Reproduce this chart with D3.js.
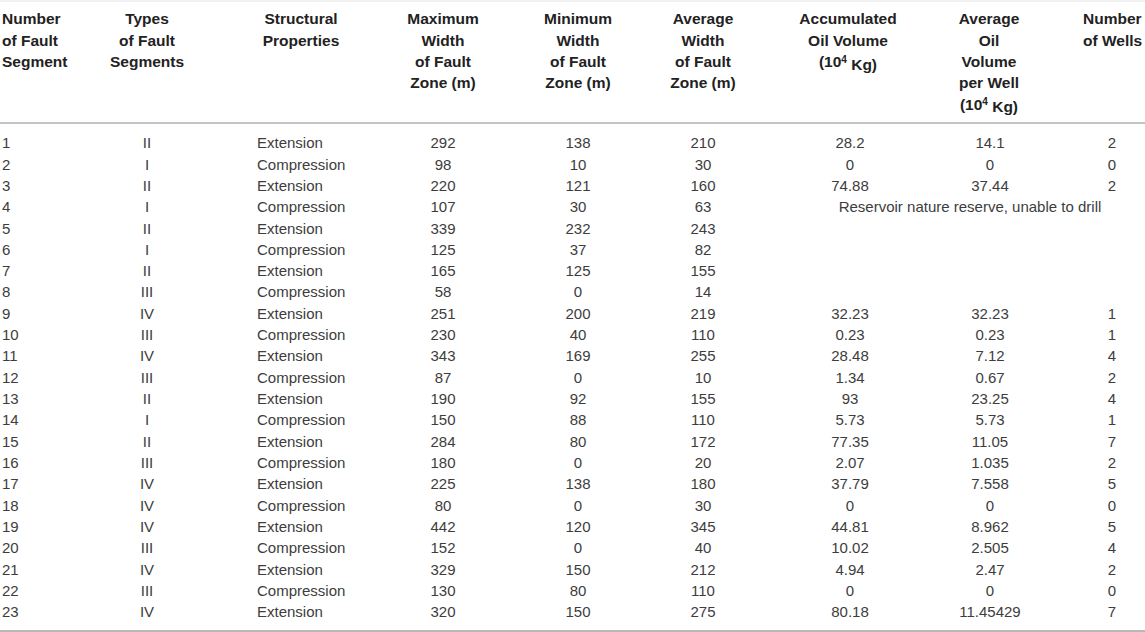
<!DOCTYPE html>
<html>
<head>
<meta charset="utf-8">
<script src="https://cdn.jsdelivr.net/npm/d3@7"></script>
<style>
  html, body { margin: 0; padding: 0; background: #fff; }
  svg { display: block; }
</style>
</head>
<body>
<div id="table"></div>
<script>
// Table data, one array per column
const segments = [1, 2, 3, 4, 5, 6, 7, 8, 9, 10, 11, 12, 13, 14, 15, 16, 17, 18, 19, 20, 21, 22, 23]
const segmentTypes = ["II", "I", "II", "I", "II", "I", "II", "III", "IV", "III", "IV", "III",
  "II", "I", "II", "III", "IV", "IV", "IV", "III", "IV", "III", "IV"]
const properties = segments.map((d, i) => i % 2 === 0 ? "Extension" : "Compression")
const maxWidth = [292, 98, 220, 107, 339, 125, 165, 58, 251, 230, 343, 87, 190, 150, 284, 180, 225, 80, 442, 152, 329, 130, 320]
const minWidth = [138, 10, 121, 30, 232, 37, 125, 0, 200, 40, 169, 0, 92, 88, 80, 0, 138, 0, 120, 0, 150, 80, 150]
const avgWidth = [210, 30, 160, 63, 243, 82, 155, 14, 219, 110, 255, 10, 155, 110, 172, 20, 180, 30, 345, 40, 212, 110, 275]
const oilVolume = [28.2, 0, 74.88, null, null, null, null, null, 32.23, 0.23, 28.48, 1.34, 93, 5.73, 77.35, 2.07, 37.79, 0, 44.81, 10.02, 4.94, 0, 80.18]
const oilPerWell = [14.1, 0, 37.44, null, null, null, null, null, 32.23, 0.23, 7.12, 0.67, 23.25, 5.73, 11.05, 1.035, 7.558, 0, 8.962, 2.505, 2.47, 0, 11.45429]
const wells = [2, 0, 2, null, null, null, null, null, 1, 1, 4, 2, 4, 1, 7, 2, 5, 0, 5, 4, 2, 0, 7]
const reserveNote = { segment: 4, text: "Reservoir nature reserve, unable to drill" }

// Header lines per column ("^4" marks a superscript)
const headers = [
  ["Number", "of Fault", "Segment"],
  ["Types", "of Fault", "Segments"],
  ["Structural", "Properties"],
  ["Maximum", "Width", "of Fault", "Zone (m)"],
  ["Minimum", "Width", "of Fault", "Zone (m)"],
  ["Average", "Width", "of Fault", "Zone (m)"],
  ["Accumulated", "Oil Volume", "(10^4 Kg)"],
  ["Average", "Oil", "Volume", "per Well", "(10^4 Kg)"],
  ["Number", "of Wells"]
]
const columnValues = [segments, segmentTypes, properties, maxWidth, minWidth, avgWidth, oilVolume, oilPerWell, wells]

// Layout
const width = 1145
const height = 632
const layout = [
  { x: 2, anchor: "start", hx: 2, hanchor: "start" },
  { x: 147, anchor: "middle", hx: 147, hanchor: "middle" },
  { x: 257, anchor: "start", hx: 301, hanchor: "middle" },
  { x: 443, anchor: "middle", hx: 443, hanchor: "middle" },
  { x: 578, anchor: "middle", hx: 578, hanchor: "middle" },
  { x: 703, anchor: "middle", hx: 703, hanchor: "middle" },
  { x: 850, anchor: "middle", hx: 848, hanchor: "middle" },
  { x: 990, anchor: "middle", hx: 989, hanchor: "middle" },
  { x: 1112, anchor: "middle", hx: 1083, hanchor: "start" }
]

const svg = d3.select("#table")
  .append("svg")
  .attr("width", width)
  .attr("height", height)
  .style("font-family", "'Liberation Sans', Arial, Helvetica, sans-serif")
  .style("font-size", "15px")

const y = d3.scalePoint()
  .domain(segments)
  .range([143, 612])

const lineStep = y.step()

// Rules
svg.append("line")
  .attr("x1", 0).attr("x2", width)
  .attr("y1", 1).attr("y2", 1)
  .attr("stroke", "#ececec")
  .attr("stroke-width", 1.5)

svg.append("line")
  .attr("x1", 0).attr("x2", width)
  .attr("y1", 123).attr("y2", 123)
  .attr("stroke", "#c4c4c4")
  .attr("stroke-width", 2)

svg.append("line")
  .attr("x1", 0).attr("x2", width)
  .attr("y1", 631).attr("y2", 631)
  .attr("stroke", "#b8b8b8")
  .attr("stroke-width", 2)

// Header
const header = svg.append("g")
  .attr("font-weight", "bold")
  .attr("font-size", "15.5px")
  .attr("fill", "#222")

headers.forEach((lines, c) => {
  lines.forEach((line, k) => {
    const t = header.append("text")
      .attr("x", layout[c].hx)
      .attr("y", 19 + k * lineStep)
      .attr("dy", "0.35em")
      .attr("text-anchor", layout[c].hanchor)
    const parts = line.split("^4")
    if (parts.length === 2) {
      t.append("tspan").text(parts[0])
      t.append("tspan").attr("dy", "-0.45em").attr("font-size", "10px").text("4")
      t.append("tspan").attr("dy", "0.45em").text(parts[1])
    } else {
      t.text(line)
    }
  })
})

// Body
const body = svg.append("g").attr("fill", "#3d3d3d")

columnValues.forEach((values, c) => {
  body.selectAll(null)
    .data(values.map((v, i) => ({ seg: segments[i], v })).filter(d => d.v !== null))
    .enter()
    .append("text")
    .attr("x", layout[c].x)
    .attr("y", d => y(d.seg))
    .attr("dy", "0.35em")
    .attr("text-anchor", layout[c].anchor)
    .text(d => d.v)
})

// Merged note over the oil / wells columns
body.append("text")
  .attr("x", 970)
  .attr("y", y(reserveNote.segment))
  .attr("dy", "0.35em")
  .attr("text-anchor", "middle")
  .text(reserveNote.text)
</script>
</body>
</html>
